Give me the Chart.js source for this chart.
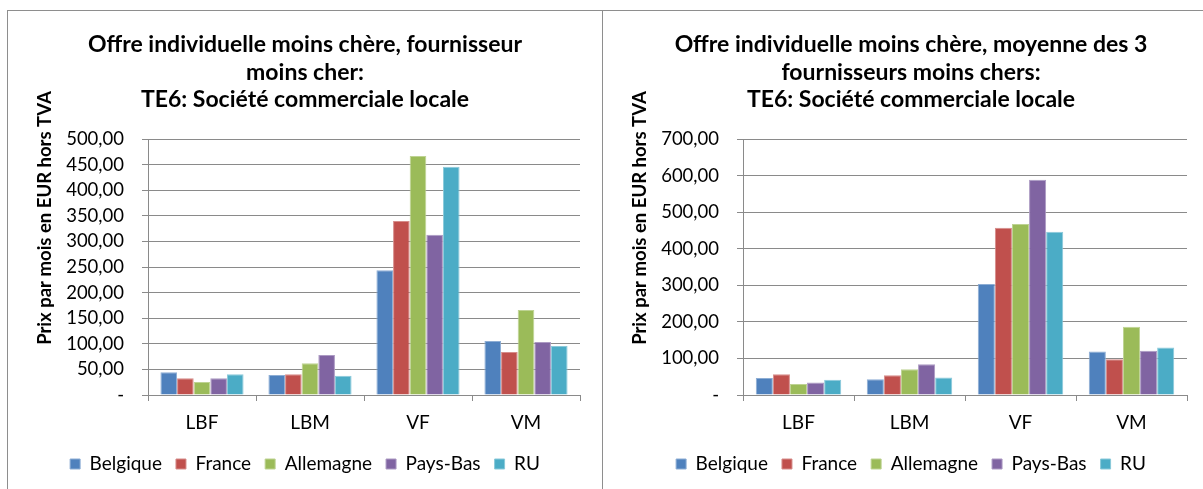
<!DOCTYPE html>
<html lang="fr">
<head>
<meta charset="utf-8">
<script src="https://cdn.jsdelivr.net/npm/chart.js@4.4.1/dist/chart.umd.min.js"></script>
<style>
  html, body { margin: 0; padding: 0; background: #fff; overflow: hidden; }
  .panel { position: absolute; top: 10px; height: 490px; border: 1px solid #8e8e8e; background: #fff; }
  #panelLeft { left: 7px; width: 594px; }
  #panelRight { left: 602px; width: 600px; }
  canvas { display: block; }
</style>
</head>
<body>
<div class="panel" id="panelLeft"><canvas id="chartLeft" width="594" height="478"></canvas></div>
<div class="panel" id="panelRight"><canvas id="chartRight" width="600" height="478"></canvas></div>
<script>
const CATEGORIES = ['LBF', 'LBM', 'VF', 'VM'];
const COUNTRIES = ['Belgique', 'France', 'Allemagne', 'Pays-Bas', 'RU'];
const COUNTRY_COLORS = ['#4f81bd', '#c0504d', '#9bbb59', '#8064a2', '#4bacc6'];

// fournisseur le moins cher
const CHEAPEST_BELGIQUE = [44.4, 39.0, 243.8, 105.6];
const CHEAPEST_FRANCE = [32.6, 40.4, 340.0, 84.0];
const CHEAPEST_ALLEMAGNE = [25.4, 62.0, 467.0, 166.0];
const CHEAPEST_PAYS_BAS = [32.6, 78.0, 312.9, 103.6];
const CHEAPEST_RU = [40.4, 37.8, 445.8, 95.8];

// moyenne des 3 fournisseurs les moins chers
const AVG3_BELGIQUE = [46.7, 43.0, 303.8, 118.9];
const AVG3_FRANCE = [56.7, 54.0, 457.6, 97.9];
const AVG3_ALLEMAGNE = [30.0, 70.5, 467.6, 186.6];
const AVG3_PAYS_BAS = [33.9, 84.2, 588.9, 120.8];
const AVG3_RU = [42.0, 47.6, 446.6, 130.0];

const LEFT_TICK_MAX = 500;
const LEFT_TICK_STEP = 50;
const RIGHT_TICK_MAX = 700;
const RIGHT_TICK_STEP = 100;

const LEFT_TITLE = ['Offre individuelle moins chère, fournisseur', 'moins cher:', 'TE6: Société commerciale locale'];
const RIGHT_TITLE = ['Offre individuelle moins chère, moyenne des 3', 'fournisseurs moins chers:', 'TE6: Société commerciale locale'];
const Y_TITLE = 'Prix par mois en EUR hors TVA';

const FONT = 'Lato, "Open Sans", sans-serif';
const GRID = '#8a8a8a';
const PLOT_LEFT = 140;

function lighten(hex, amount) {
  const n = hex.replace('#', '');
  const parts = [0, 2, 4].map((i) => Number.parseInt(n.slice(i, i + 2), 16));
  const mixed = parts.map((c) => Math.round(c + (255 - c) * amount));
  return `rgb(${mixed.join(', ')})`;
}

function formatTick(value) {
  if (value === 0) {
    return '-';
  }
  return value.toFixed(2).replace('.', ',');
}

// titre de l'axe vertical, placé comme dans Excel (un peu au-dessus du centre)
const axisTitlePlugin = {
  id: 'axisTitle',
  afterDraw(chart, args, opts) {
    const { ctx } = chart;
    ctx.save();
    ctx.translate(opts.x, opts.y);
    ctx.rotate(-Math.PI / 2);
    ctx.font = `bold 18.5px ${FONT}`;
    ctx.fillStyle = '#000';
    ctx.textAlign = 'center';
    ctx.textBaseline = 'middle';
    ctx.fillText(opts.text, 0, 0);
    ctx.restore();
  },
};

function buildDatasets(seriesList) {
  return seriesList.map((values, index) => ({
    label: COUNTRIES[index],
    data: values,
    backgroundColor: COUNTRY_COLORS[index],
    borderColor: lighten(COUNTRY_COLORS[index], 0.35),
    borderWidth: 1,
    categoryPercentage: 0.77,
    barPercentage: 1,
  }));
}

function createChart(canvas, title, seriesList, maxValue, step, padLeft, padRight) {
  return new Chart(canvas, {
    type: 'bar',
    data: {
      labels: CATEGORIES,
      datasets: buildDatasets(seriesList),
    },
    plugins: [axisTitlePlugin],
    options: {
      responsive: false,
      animation: false,
      events: [],
      layout: { padding: { left: padLeft, right: padRight, top: 0, bottom: 5.5 } },
      scales: {
        x: {
          grid: { display: true, drawOnChartArea: false, drawTicks: true, tickLength: 6, color: GRID, offset: true },
          border: { color: GRID, width: 1 },
          ticks: { color: '#000', font: { family: FONT, size: 19 }, padding: 10 },
          afterFit(scale) { scale.height = 45.5; },
        },
        y: {
          min: 0,
          max: maxValue,
          grid: { color: GRID, lineWidth: 1, drawTicks: true, tickLength: 6 },
          border: { color: GRID, width: 1 },
          ticks: {
            stepSize: step,
            color: '#000',
            font: { family: FONT, size: 18.5 },
            padding: 18,
            callback: (value) => formatTick(value),
          },
          afterFit(scale) { scale.width = PLOT_LEFT - padLeft; },
        },
      },
      plugins: {
        title: {
          display: true,
          text: title,
          color: '#000',
          font: { family: FONT, size: 23, weight: 'bold', lineHeight: 1.196 },
          padding: { top: 20, bottom: 25.5 },
        },
        legend: {
          position: 'bottom',
          labels: {
            color: '#000',
            font: { family: FONT, size: 19 },
            boxWidth: 10,
            boxHeight: 10,
            padding: 14,
          },
        },
        tooltip: { enabled: false },
        axisTitle: { text: Y_TITLE, x: 37, y: 207 },
      },
    },
  });
}

createChart(
  document.getElementById('chartLeft'),
  LEFT_TITLE,
  [CHEAPEST_BELGIQUE, CHEAPEST_FRANCE, CHEAPEST_ALLEMAGNE, CHEAPEST_PAYS_BAS, CHEAPEST_RU],
  LEFT_TICK_MAX,
  LEFT_TICK_STEP,
  22,
  22,
);

createChart(
  document.getElementById('chartRight'),
  RIGHT_TITLE,
  [AVG3_BELGIQUE, AVG3_FRANCE, AVG3_ALLEMAGNE, AVG3_PAYS_BAS, AVG3_RU],
  RIGHT_TICK_MAX,
  RIGHT_TICK_STEP,
  32,
  16,
);
</script>
</body>
</html>
